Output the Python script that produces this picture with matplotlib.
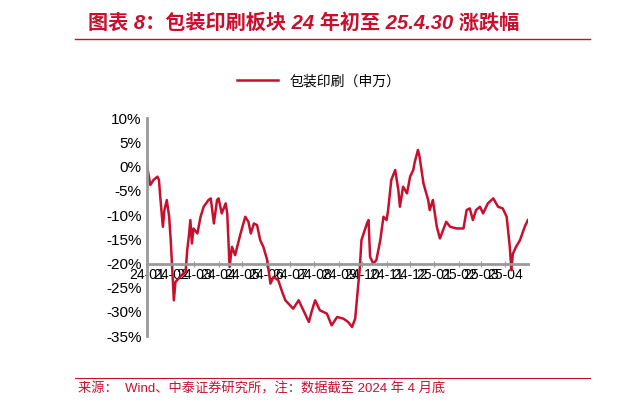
import matplotlib.pyplot as plt
import numpy as np
import datetime as dt

plt.rcParams['font.family'] = ['Liberation Sans', 'Noto Sans CJK SC', 'DejaVu Sans']

# days since 2024-01-01 and cumulative change (%)
days = [0, 4, 8, 13, 15, 17, 20, 22, 25, 28, 30, 34, 36, 42, 49, 51, 53, 55, 57, 59,
        64, 68, 72, 78, 81, 85, 89, 91, 95, 100, 102, 105, 108, 112, 119, 125, 129, 132,
        136, 140, 144, 148, 153, 157, 161, 167, 172, 176, 180, 186, 193, 199, 206, 210,
        214, 220, 229, 235, 242, 250, 256, 261, 265, 271, 273, 280, 282, 284, 288, 292,
        297, 301, 305, 307, 311, 316, 320, 322, 326, 331, 335, 339, 341, 345, 347, 352,
        358, 360, 364, 369, 373, 377, 381, 386, 394, 403, 407, 411, 415, 419, 424, 428,
        434, 441, 447, 453, 458, 462, 464, 466, 470, 475, 481, 485]
ys = [200, 255, 240, 230, 240, 300, 380, 330, 300, 350, 420, 600, 545, 530, 515, 450,
      410, 360, 430, 385, 400, 350, 320, 300, 295, 370, 300, 295, 340, 310, 340, 500,
      440, 465, 400, 350, 365, 400, 370, 375, 420, 440, 480, 550, 530, 540, 575, 600,
      610, 625, 600, 630, 665, 630, 600, 630, 640, 675, 650, 655, 665, 680, 655, 500,
      420, 370, 360, 470, 490, 480, 420, 350, 360, 330, 240, 210, 270, 320, 260, 280,
      230, 210, 185, 150, 170, 250, 300, 330, 300, 380, 415, 390, 365, 380, 385, 385,
      330, 325, 360, 330, 320, 340, 310, 295, 320, 325, 350, 440, 510, 460, 440, 420,
      380, 360]
values = [(200 - y) / 14.5 for y in ys]
month_labels = ['24-01', '24-02', '24-03', '24-04', '24-05', '24-06', '24-07', '24-08',
                '24-09', '24-10', '24-11', '24-12', '25-01', '25-02', '25-03', '25-04']

start = dt.date(2024, 1, 1)
dates = [start + dt.timedelta(days=d) for d in days]
months = [dt.date(2024 + i // 12, i % 12 + 1, 1) for i in range(16)]

red = '#c8102e'
fig = plt.figure(figsize=(6.21, 4.09), dpi=100)
ax = fig.add_axes([0.237, 0.178, 0.613, 0.533])
ax.plot(dates, values, color=red, lw=1.8, label='包装印刷（申万）')
ax.set_ylim(-35, 10)
ax.set_xlim(start, dt.date(2025, 4, 30))
ax.set_yticks(np.arange(-35, 11, 5))
ax.set_yticklabels([f'{v}%' for v in range(-35, 11, 5)], fontsize=11)
ax.set_xticks(months)
ax.set_xticklabels(month_labels, fontsize=11)
ax.tick_params(axis='x', pad=1, length=4, direction='inout', color='#999999')
ax.tick_params(axis='y', length=0, pad=4)
plt.setp(ax.get_xticklabels(), rotation=45, ha='right', rotation_mode='anchor')
for s in ['top', 'right']:
    ax.spines[s].set_visible(False)
ax.spines['bottom'].set_position(('data', -20))
for s in ['left', 'bottom']:
    ax.spines[s].set_color('#999999')
    ax.spines[s].set_linewidth(2)
ax.legend(loc='lower center', bbox_to_anchor=(0.45, 1.08), frameon=False,
          fontsize=10, handlelength=3)

fig.text(0.142, 0.945, '图表 8：包装印刷板块 24 年初至 25.4.30 涨跌幅', color=red,
         fontsize=14.5, fontweight='bold', style='italic', va='center')
fig.add_artist(plt.Line2D([0.12, 0.95], [0.905, 0.905], color=red, lw=1))
fig.add_artist(plt.Line2D([0.12, 0.95], [0.075, 0.075], color=red, lw=0.8))
fig.text(0.125, 0.05, '来源：  Wind、中泰证券研究所，注：数据截至 2024 年 4 月底', color=red,
         fontsize=9.5, va='center')
fig.savefig('out.png', dpi=100)
